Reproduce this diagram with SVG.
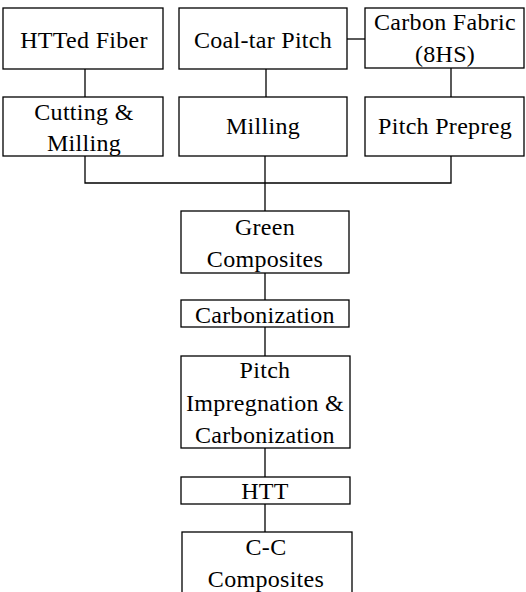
<svg xmlns="http://www.w3.org/2000/svg" width="526" height="592" viewBox="0 0 526 592">
<style>
.box{fill:#fff;stroke:#000;stroke-width:1.3}
.lbl{font-family:"Liberation Serif","Times New Roman",serif;font-size:24px;fill:#000;text-anchor:middle;letter-spacing:0.3px}
.c line,.c polyline{stroke:#000;stroke-width:1.3;fill:none}
</style>
<rect x="0" y="0" width="526" height="592" fill="#fff"/>
<g class="c" id="connectors">
<line x1="85" y1="69" x2="85" y2="97"/>
<line x1="266" y1="69" x2="266" y2="97"/>
<line x1="347" y1="39" x2="365" y2="39"/>
<line x1="451" y1="68" x2="451" y2="97"/>
<polyline points="85,156 85,183 451,183 451,156"/>
<line x1="265" y1="156" x2="265" y2="211"/>
<line x1="265" y1="273" x2="265" y2="300"/>
<line x1="265" y1="327" x2="265" y2="356"/>
<line x1="265" y1="448" x2="265" y2="477"/>
<line x1="265" y1="504" x2="265" y2="532"/>
</g>
<g id="htted"><rect class="box" x="3" y="8" width="160" height="61"/><text class="lbl" x="84" y="48">HTTed Fiber</text></g>
<g id="coaltar"><rect class="box" x="179" y="8" width="168" height="61"/><text class="lbl" x="263" y="48">Coal-tar Pitch</text></g>
<g id="fabric"><rect class="box" x="365" y="8" width="159" height="60"/><text class="lbl" x="445" y="30">Carbon Fabric</text><text class="lbl" x="445" y="62">(8HS)</text></g>
<g id="cutting"><rect class="box" x="3" y="97" width="160" height="59"/><text class="lbl" x="84" y="120">Cutting &amp;</text><text class="lbl" x="84" y="151">Milling</text></g>
<g id="milling"><rect class="box" x="179" y="97" width="168" height="59"/><text class="lbl" x="263" y="134">Milling</text></g>
<g id="prepreg"><rect class="box" x="365" y="97" width="159" height="59"/><text class="lbl" x="445" y="134">Pitch Prepreg</text></g>
<g id="green"><rect class="box" x="181" y="211" width="168" height="62"/><text class="lbl" x="265" y="235">Green</text><text class="lbl" x="265" y="267">Composites</text></g>
<g id="carb"><rect class="box" x="181" y="300" width="168" height="27"/><text class="lbl" x="265" y="323">Carbonization</text></g>
<g id="impreg"><rect class="box" x="181" y="356" width="169" height="92"/><text class="lbl" x="265" y="378">Pitch</text><text class="lbl" x="265" y="411">Impregnation &amp;</text><text class="lbl" x="265" y="443">Carbonization</text></g>
<g id="htt"><rect class="box" x="181" y="477" width="169" height="27"/><text class="lbl" x="265" y="499">HTT</text></g>
<g id="cc"><rect class="box" x="182" y="532" width="170" height="64"/><text class="lbl" x="266" y="555">C-C</text><text class="lbl" x="266" y="587">Composites</text></g>
</svg>
